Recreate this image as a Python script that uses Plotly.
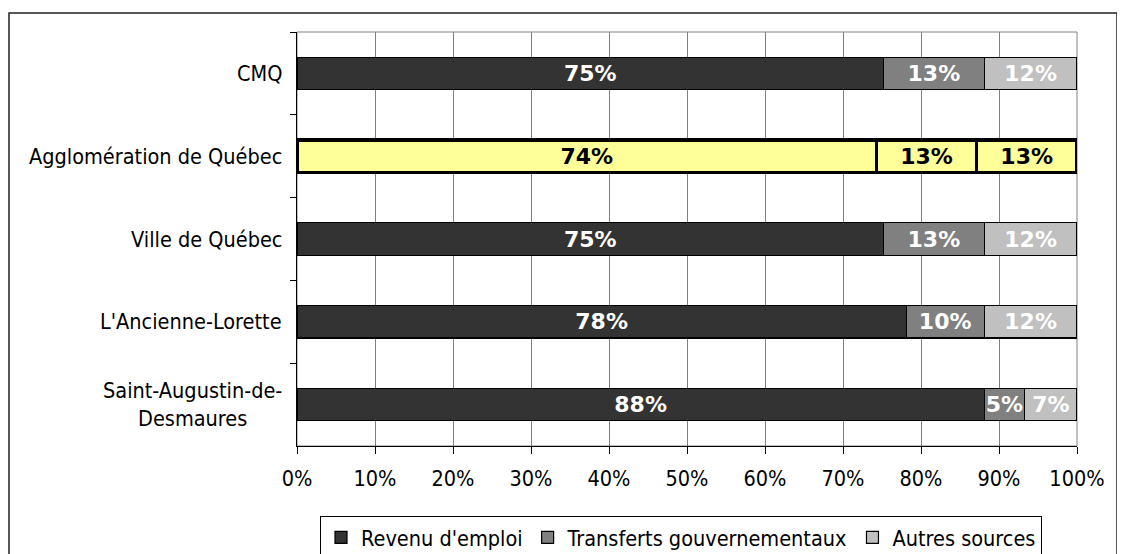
import plotly.graph_objects as go

# ---- data ----
categories = ["CMQ", "Agglomération de Québec", "Ville de Québec",
              "L'Ancienne-Lorette", "Saint-Augustin-de-Desmaures"]
category_labels = ["CMQ", "Agglomération de Québec", "Ville de Québec",
                   "L'Ancienne-Lorette", "Saint-Augustin-de-<br>Desmaures"]
revenu_emploi = [75.2, 74.3, 75.2, 78.1, 88.1]
transferts_gouv = [12.9, 12.8, 12.9, 10.0, 5.2]
autres_sources = [11.9, 12.9, 11.9, 11.9, 6.7]
series_names = ["Revenu d'emploi", "Transferts gouvernementaux", "Autres sources"]
series_values = [revenu_emploi, transferts_gouv, autres_sources]
series_colors = ["#333333", "#808080", "#C0C0C0"]
highlight_category = "Agglomération de Québec"
x_tick_values = list(range(0, 101, 10))

FONT = "DejaVu Sans Condensed, DejaVu Sans, sans-serif"
BAR_FONT = "DejaVu Sans, sans-serif"
FS = 21.5

# page body offset (8px default margin)
OFF = 8

fig = go.Figure()
for name, vals, col in zip(series_names, series_values, series_colors):
    is_hl = [c == highlight_category for c in categories]
    fig.add_trace(go.Bar(
        name=name,
        y=categories,
        x=vals,
        orientation="h",
        marker=dict(
            color=["#FFFF99" if h else col for h in is_hl],
            line=dict(color="black", width=[3.5 if h else 1.2 for h in is_hl]),
        ),
        texttemplate="%{x:.0f}%",
        textposition="inside",
        insidetextanchor="middle",
        textangle=0,
        constraintext="none",
        textfont=dict(family=BAR_FONT, size=22, weight="bold",
                      color=["black" if h else "white" for h in is_hl]),
        hoverinfo="skip",
    ))

annotations = []
for cat, lab in zip(categories, category_labels):
    annotations.append(dict(
        x=0, xref="paper", y=cat, yref="y", text=lab,
        xanchor="right", yanchor="middle", align="center", xshift=-13,
        showarrow=False, font=dict(family=FONT, size=FS, color="black"),
    ))

W, H = 1125, 554
L, R, T, B = 297 - OFF, 1077 - OFF, 32 - OFF, 446 - OFF
pw, ph = R - L, B - T

def px_x(p):
    return (p - OFF - L) / pw

def px_y(p):
    return (B - (p - OFF)) / ph

shapes = [
    # plot area border (grey)
    dict(type="rect", xref="paper", yref="paper", x0=0, x1=1, y0=0, y1=1,
         line=dict(color="#808080", width=1), layer="below"),
    # outer chart frame
    dict(type="rect", xref="paper", yref="paper",
         x0=px_x(9), x1=px_x(1117), y0=px_y(620), y1=px_y(13),
         line=dict(color="#222222", width=1.5), fillcolor="rgba(0,0,0,0)"),
]

fig.update_layout(
    width=W, height=H,
    margin=dict(l=L, r=W - R, t=T, b=H - B, pad=0, autoexpand=False),
    barmode="stack",
    bargap=0.61,
    paper_bgcolor="white",
    plot_bgcolor="white",
    font=dict(family=FONT, size=FS, color="black"),
    showlegend=True,
    legend=dict(
        orientation="h",
        x=px_x(681), xanchor="center",
        y=px_y(516), yanchor="top",
        bordercolor="black", borderwidth=1,
        bgcolor="white",
        font=dict(family=FONT, size=FS),
        traceorder="normal",
        itemwidth=30,
    ),
    annotations=annotations,
    shapes=shapes,
)
fig.update_xaxes(
    range=[0, 100],
    tickvals=x_tick_values,
    ticktext=[f"{v}%" for v in x_tick_values],
    ticks="outside", ticklen=7, tickcolor="black", tickwidth=1,
    showline=True, linecolor="black", linewidth=1,
    showgrid=True, gridcolor="#808080", gridwidth=1,
    zeroline=False,
    ticklabelstandoff=6,
    tickfont=dict(family=FONT, size=FS),
)
fig.update_yaxes(
    autorange="reversed",
    categoryorder="array", categoryarray=categories,
    showticklabels=False,
    ticks="outside", tickson="boundaries", ticklen=6, tickcolor="black",
    showline=True, linecolor="black", linewidth=1,
    showgrid=False, zeroline=False,
)

fig.write_html("out.html")
